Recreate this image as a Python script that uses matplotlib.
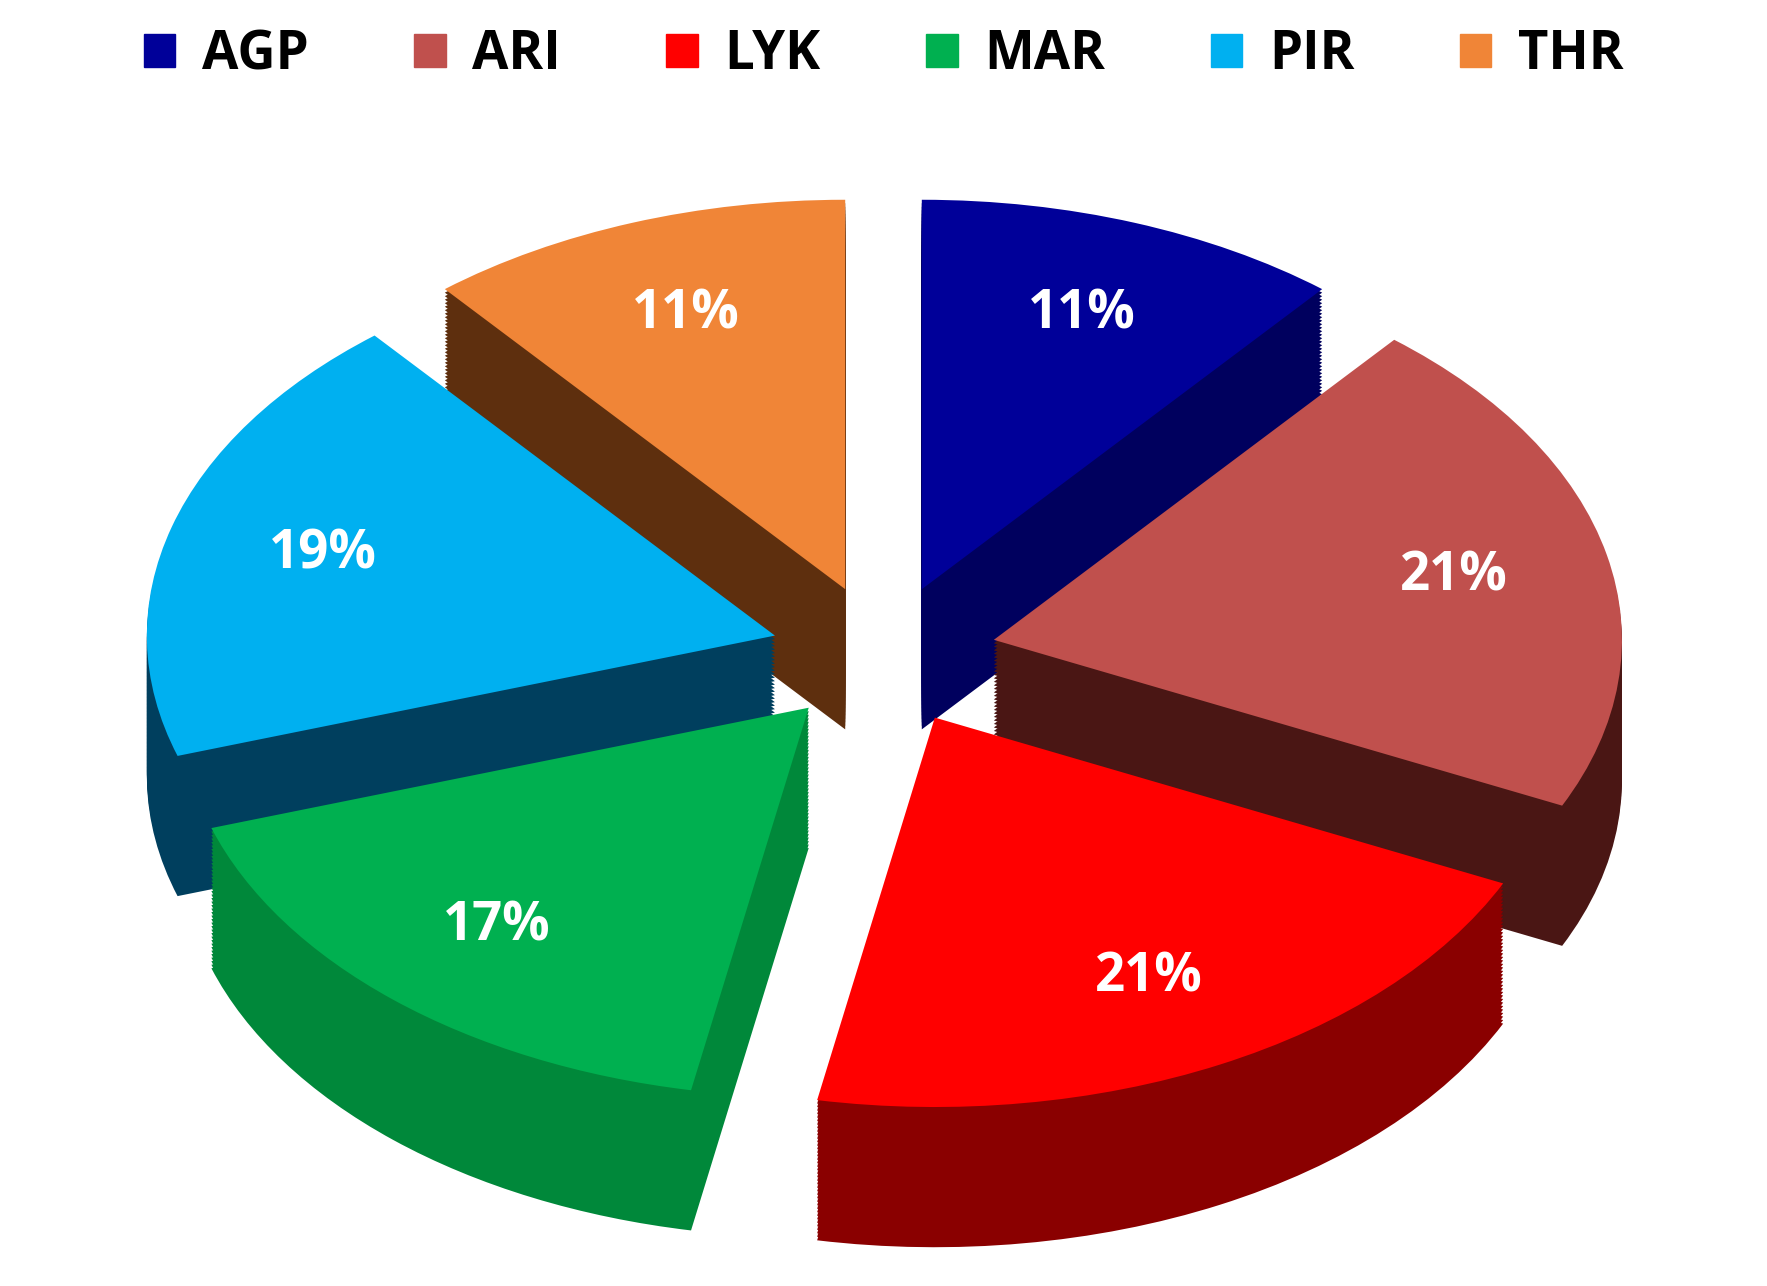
import matplotlib
matplotlib.use("Agg")
import matplotlib.pyplot as plt
import numpy as np

labels = ["AGP", "ARI", "LYK", "MAR", "PIR", "THR"]
values = [11, 21, 21, 17, 19, 11]
top_colors = ["#000099", "#c0504d", "#ff0000", "#00b050", "#00b0f0", "#f08537"]
side_colors = ["#00005e", "#4a1614", "#8a0000", "#00883a", "#003f5e", "#5e2f0e"]

plt.rcParams['font.family'] = ['Open Sans', 'DejaVu Sans']
fig = plt.figure(figsize=(17.67, 12.86), dpi=100)
ax = fig.add_axes([0.0, 0.0, 1.0, 0.86])
explode = [0.18] * len(values)
depth = 0.36
n_layers = 40
for k in range(n_layers, 0, -1):
    off = -depth * k / n_layers
    ax.pie(values, explode=explode, colors=side_colors, startangle=90,
           counterclock=False, center=(0, off), radius=1.0,
           wedgeprops=dict(linewidth=0), normalize=True)
wedges, texts, autotexts = ax.pie(
    values, explode=explode, colors=top_colors, startangle=90,
    counterclock=False, center=(0, 0), radius=1.0,
    wedgeprops=dict(linewidth=0), autopct="%d%%", pctdistance=0.75,
    textprops=dict(color="white", fontsize=38, fontweight="bold"))
ax.set_xlim(-1.26, 1.26)
ax.set_ylim(-1.62, 1.22)
ax.set_aspect(0.62)
ax.axis("off")

handles = [plt.Rectangle((0, 0), 1, 1, color=c) for c in top_colors]
fig.legend(handles, labels, loc="upper center", ncol=6, frameon=False,
           bbox_to_anchor=(0.5, 1.015), prop=dict(size=38, weight="bold"),
           handlelength=0.6, handleheight=0.6, columnspacing=2.0, handletextpad=0.5)
fig.savefig("out.png", dpi=100, facecolor="white")
